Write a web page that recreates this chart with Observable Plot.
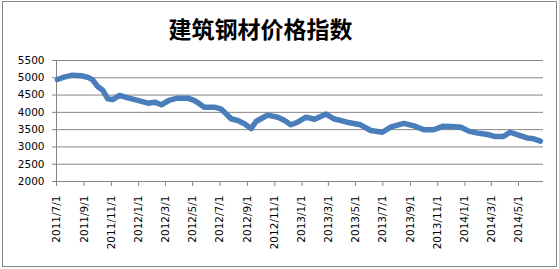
<!DOCTYPE html>
<html>
<head>
<meta charset="utf-8">
<script src="https://cdn.jsdelivr.net/npm/d3@7"></script>
<script src="https://cdn.jsdelivr.net/npm/@observablehq/plot@0.6"></script>
<style>
  html, body { margin: 0; padding: 0; background: white; }
  #frame {
    margin-left: 2px; margin-top: 1px;
    width: 555px; height: 266px; box-sizing: border-box;
    border: 1px solid #868686; background: white; overflow: hidden;
  }
  #title {
    height: 46px; line-height: 46px; padding-top: 3px; padding-right: 38px;
    text-align: center; font-family: "Noto Sans CJK SC", sans-serif;
    font-size: 23px; font-weight: bold; color: #000;
  }
  #chart svg { display: block; }
</style>
</head>
<body>
<div id="frame">
  <div id="title">建筑钢材价格指数</div>
  <div id="chart"></div>
</div>
<script>
const titleText = "建筑钢材价格指数";

const dates = [
  "2011/7/3","2011/7/18","2011/8/6","2011/8/25","2011/9/9","2011/9/20","2011/10/1","2011/10/12",
  "2011/10/24","2011/11/4","2011/11/19","2011/12/8","2011/12/30","2012/1/22","2012/2/6","2012/2/21",
  "2012/3/9","2012/3/28","2012/4/20","2012/5/4","2012/5/16","2012/5/27","2012/6/19","2012/7/3",
  "2012/7/15","2012/7/26","2012/8/10","2012/8/25","2012/9/9","2012/9/20","2012/10/1","2012/10/16",
  "2012/11/8","2012/11/23","2012/12/7","2012/12/22","2013/1/10","2013/1/29","2013/2/24","2013/3/13",
  "2013/4/12","2013/5/12","2013/6/4","2013/6/30","2013/7/18","2013/8/17","2013/9/9","2013/10/1",
  "2013/10/23","2013/11/12","2013/12/4","2013/12/23","2014/1/11","2014/1/30","2014/2/21","2014/3/10",
  "2014/3/28","2014/4/12","2014/4/28","2014/5/20","2014/6/4","2014/6/19"
];
const values = [
  4950,5017,5075,5057,5017,4940,4750,4650,
  4390,4370,4490,4420,4345,4265,4295,4220,
  4345,4410,4410,4345,4250,4150,4150,4100,
  3960,3815,3765,3670,3530,3735,3815,3920,
  3860,3765,3640,3715,3860,3800,3950,3815,
  3715,3640,3475,3425,3570,3680,3610,3497,
  3497,3595,3590,3570,3450,3400,3360,3300,
  3300,3425,3355,3260,3235,3170
];
const xTickLabels = [
  "2011/7/1","2011/9/1","2011/11/1","2012/1/1","2012/3/1","2012/5/1","2012/7/1","2012/9/1",
  "2012/11/1","2013/1/1","2013/3/1","2013/5/1","2013/7/1","2013/9/1","2013/11/1","2014/1/1",
  "2014/3/1","2014/5/1"
];
const yTicks = [2000, 2500, 3000, 3500, 4000, 4500, 5000, 5500];
const xStart = "2011/7/1";
const xEnd = "2014/6/26";

const parse = d3.utcParse("%Y/%m/%d");
const fmt = d => `${d.getUTCFullYear()}/${d.getUTCMonth() + 1}/${d.getUTCDate()}`;
const data = dates.map((d, i) => ({date: parse(d), value: values[i]}));
const xTicks = xTickLabels.map(parse);
const gray = "#868686";

const chart = Plot.plot({
  width: 553,
  height: 215,
  marginLeft: 53,
  marginRight: 13,
  marginTop: 9,
  marginBottom: 85,
  style: {fontFamily: "DejaVu Sans, sans-serif", fontSize: "10.5px", background: "white", color: "black"},
  x: {type: "utc", domain: [parse(xStart), parse(xEnd)]},
  y: {domain: [2000, 5500], nice: false},
  marks: [
    Plot.ruleY(yTicks, {stroke: gray, strokeWidth: 1}),
    Plot.ruleX([parse(xStart)], {stroke: gray, strokeWidth: 1}),
    Plot.axisY({ticks: yTicks, tickSize: 4, tickPadding: 8, stroke: gray, fill: "black", label: null, tickFormat: d => String(d)}),
    Plot.axisX({ticks: xTicks, tickSize: 5, tickPadding: 9, tickRotate: -90, stroke: gray, fill: "black", label: null, tickFormat: fmt}),
    Plot.line(data, {x: "date", y: "value", stroke: "#4a7ebb", strokeWidth: 5.5, strokeLinejoin: "round", strokeLinecap: "round"})
  ]
});
document.getElementById("chart").appendChild(chart);
</script>
</body>
</html>
